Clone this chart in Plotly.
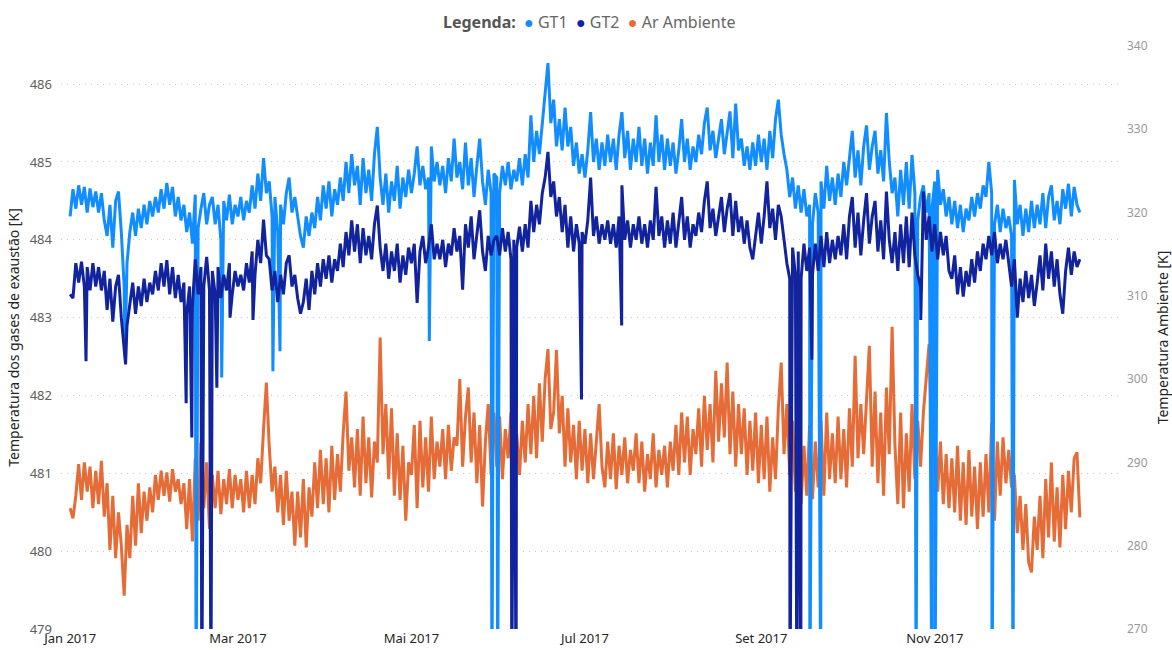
import pandas as pd
import plotly.graph_objects as go

# ---------------- DATA ----------------
start_date = "2017-01-01"

gt1 = [
    484.30, 484.65, 484.40, 484.70, 484.45, 484.68, 484.35, 484.66, 484.42, 484.62,
    484.35, 484.60, 484.25, 484.05, 484.45, 483.90, 484.50, 484.62, 484.10, 483.40,
    483.70, 484.10, 484.35, 484.05, 484.40, 484.15, 484.45, 484.20, 484.50, 484.30,
    484.55, 484.35, 484.65, 484.40, 484.73, 484.45, 484.68, 484.30, 484.55, 484.25,
    484.45, 484.10, 484.35, 483.95, 484.58, 484.15, 484.40, 484.60, 484.20, 484.45,
    484.55, 484.20, 484.45, 484.00, 484.50, 484.25, 484.58, 484.20, 484.45, 484.30,
    484.55, 484.25, 484.50, 484.35, 484.70, 484.40, 484.85, 484.50, 485.05, 484.60,
    484.75, 484.30, 484.55, 484.10, 484.45, 484.20, 484.60, 484.80, 484.35, 484.55,
    484.30, 484.05, 483.90, 484.30, 484.05, 484.35, 484.15, 484.55, 484.25, 484.70,
    484.40, 484.75, 484.30, 484.65, 484.45, 484.80, 484.50, 485.00, 484.60, 485.10,
    484.70, 484.95, 484.45, 485.05, 484.60, 484.90, 484.50, 485.10, 485.45, 484.80,
    484.45, 484.85, 484.35, 484.75, 484.50, 484.95, 484.40, 484.80, 484.55, 484.90,
    484.60, 484.85, 485.20, 484.70, 484.95, 484.65, 484.80, 485.20, 484.75, 485.00,
    484.70, 484.95, 484.60, 485.05, 484.75, 485.30, 484.80, 485.00, 484.65, 485.25,
    484.70, 485.05, 484.55, 484.95, 485.30, 484.75, 484.45, 484.90, 484.60, 484.85,
    484.80, 484.60, 484.95, 484.70, 485.00, 484.65, 484.90, 484.75, 485.05, 484.70,
    485.10, 484.80, 485.60, 485.00, 485.40, 485.10, 485.50, 485.80, 486.27, 485.50,
    485.80, 485.20, 485.55, 485.15, 485.70, 485.20, 485.45, 484.95, 485.25, 484.85,
    485.10, 484.80, 485.15, 485.64, 485.00, 485.30, 484.90, 485.25, 484.95, 485.35,
    485.00, 485.30, 484.90, 485.35, 485.64, 485.05, 485.40, 484.90, 485.30, 485.00,
    485.45, 484.95, 485.30, 484.85, 485.25, 484.95, 485.60, 485.00, 485.35, 484.90,
    485.30, 484.95, 485.25, 484.85, 485.15, 485.55, 485.00, 485.30, 484.90, 485.20,
    485.00, 485.35, 485.10, 485.50, 485.70, 485.15, 485.40, 485.05, 485.30, 485.55,
    485.10, 485.35, 485.65, 485.05, 485.75, 485.15, 485.30, 484.95, 485.20, 484.90,
    485.25, 484.95, 485.35, 485.00, 485.30, 484.90, 485.40, 485.05, 485.55, 485.80,
    485.35, 485.10, 484.90, 484.55, 484.80, 484.40, 484.70, 484.35, 484.65, 484.30,
    484.45, 484.20, 484.60, 484.35, 484.75, 484.40, 484.95, 484.50, 484.80, 484.45,
    484.85, 484.55, 485.00, 484.70, 485.10, 485.40, 484.80, 485.15, 484.70, 485.20,
    485.47, 484.90, 485.20, 485.40, 484.85, 485.15, 484.75, 485.63, 485.00, 484.60,
    484.80, 484.30, 484.90, 484.45, 485.00, 484.40, 485.09, 484.60, 484.25, 484.55,
    484.70, 484.35, 484.60, 484.40, 484.75, 484.90, 484.45, 484.65, 484.30, 484.55,
    484.20, 484.50, 484.15, 484.45, 484.10, 484.40, 484.25, 484.55, 484.30, 484.60,
    484.40, 484.70, 484.55, 485.00, 484.60, 484.20, 484.45, 484.10, 484.40, 484.15,
    484.30, 484.05, 484.77, 484.20, 484.45, 484.05, 484.40, 484.10, 484.50, 484.15,
    484.45, 484.20, 484.60, 484.15, 484.55, 484.70, 484.25, 484.50, 484.20, 484.65,
    484.40, 484.72, 484.30, 484.68, 484.45, 484.35,
]

gt2 = [
    483.30, 483.25, 483.70, 483.45, 483.72, 483.40, 483.65, 483.35, 483.70, 483.40,
    483.65, 483.35, 483.60, 483.10, 483.50, 482.95, 483.40, 483.55, 483.00, 482.60,
    482.90, 483.20, 483.45, 483.05, 483.40, 483.15, 483.50, 483.20, 483.45, 483.30,
    483.60, 483.35, 483.70, 483.40, 483.74, 483.30, 483.65, 483.25, 483.55, 483.20,
    483.45, 483.05, 483.40, 483.15, 483.75, 483.30, 483.65, 483.40, 483.78, 483.35,
    483.60, 483.30, 483.65, 483.25, 483.55, 483.35, 483.70, 483.30, 483.60, 483.40,
    483.55, 483.35, 483.70, 483.45, 483.85, 483.55, 484.00, 483.70, 484.26, 483.80,
    483.75, 483.35, 483.60, 483.20, 483.55, 483.30, 483.70, 483.80, 483.40, 483.55,
    483.25, 483.05, 483.20, 483.50, 483.10, 483.60, 483.30, 483.70, 483.40, 483.75,
    483.50, 483.80, 483.45, 483.75, 483.60, 483.95, 483.65, 484.10, 483.80, 484.25,
    483.85, 484.20, 483.70, 484.15, 483.80, 484.05, 483.75, 484.20, 484.44, 483.90,
    483.60, 483.95, 483.50, 483.85, 483.60, 483.95, 483.45, 483.80, 483.55, 483.90,
    483.70, 483.95, 483.19, 483.85, 484.05, 483.70, 483.90, 484.20, 483.75, 483.95,
    483.75, 484.00, 483.65, 483.95, 483.80, 484.15, 483.85, 484.05, 483.36, 484.20,
    483.90, 484.30, 483.75, 484.10, 484.38, 483.85, 483.60, 484.05, 483.80, 484.00,
    484.05, 483.80, 484.15, 483.85, 484.10, 483.75, 484.00, 483.90, 484.17, 483.85,
    484.20, 483.90, 484.50, 484.10, 484.45, 484.20, 484.60, 484.80, 485.13, 484.55,
    484.75, 484.30, 484.55, 484.10, 484.45, 483.90, 484.30, 483.85, 484.20, 483.95,
    484.10, 483.95, 484.25, 484.80, 484.05, 484.30, 483.95, 484.20, 484.00, 484.25,
    483.95, 484.20, 483.90, 484.30, 484.70, 484.00, 484.25, 483.90, 484.20, 484.00,
    484.30, 483.95, 484.20, 483.90, 484.25, 484.00, 484.68, 484.05, 484.30, 483.90,
    484.25, 483.95, 484.35, 483.90, 484.20, 484.55, 484.00, 484.30, 483.90, 484.20,
    484.05, 484.35, 484.10, 484.50, 484.75, 484.15, 484.40, 484.05, 484.30, 484.55,
    484.10, 484.40, 484.60, 484.05, 484.50, 484.10, 484.30, 483.95, 484.25, 483.90,
    483.75, 484.05, 484.35, 483.95, 484.30, 484.75, 484.15, 484.40, 484.00, 484.45,
    484.30, 484.00, 483.70, 483.50, 483.90, 483.55, 483.85, 483.50, 483.95, 483.60,
    483.90, 483.55, 483.95, 483.60, 484.05, 483.65, 484.10, 483.70, 484.00, 483.75,
    484.05, 483.80, 484.20, 483.75, 484.30, 484.55, 483.90, 484.35, 483.80, 484.25,
    484.60, 483.95, 484.30, 484.50, 483.85, 484.25, 483.75, 484.62, 484.00, 483.70,
    484.10, 483.60, 484.20, 483.70, 484.30, 483.65, 484.35, 483.80, 483.55, 483.40,
    484.62, 484.00, 484.30, 483.85, 484.20, 483.75, 484.10, 483.80, 484.05, 483.60,
    483.50, 483.80, 483.30, 483.65, 483.27, 483.60, 483.40, 483.75, 483.45, 483.85,
    483.60, 483.95, 483.75, 484.05, 483.80, 484.10, 483.70, 483.95, 483.75, 484.00,
    483.70, 483.40, 483.75, 483.00, 483.50, 483.20, 483.60, 483.25, 483.55, 483.15,
    483.45, 483.80, 483.35, 483.95, 483.50, 483.85, 483.40, 483.75, 483.30, 483.05,
    483.60, 483.90, 483.55, 483.85, 483.65, 483.75,
]

ar_ambiente = [
    284.5, 283.3, 286.0, 289.8, 285.5, 290.0, 286.5, 289.5, 284.5, 289.0,
    285.0, 290.2, 283.5, 287.5, 279.5, 286.0, 278.5, 284.0, 280.0, 274.0,
    282.5, 278.5, 286.0, 280.0, 287.5, 281.5, 286.5, 283.0, 287.0, 284.0,
    288.5, 285.5, 289.0, 286.0, 288.8, 285.3, 289.2, 286.5, 288.0, 285.0,
    287.5, 282.0, 288.0, 280.5, 290.5, 283.0, 292.4, 284.5, 290.0, 282.0,
    288.5, 284.5, 289.0, 283.8, 288.0, 285.0, 289.2, 284.5, 288.5, 285.5,
    288.0, 284.0, 289.0, 284.5, 288.5, 285.0, 290.5, 287.5, 294.0, 299.6,
    292.0, 286.5, 289.5, 284.0, 288.5, 282.5, 289.0, 283.0, 286.5, 280.0,
    286.5, 281.0, 288.0, 279.8, 287.0, 283.5, 290.0, 284.5, 291.5, 285.0,
    290.5, 284.0, 292.0, 285.5, 291.0, 286.5, 293.5, 298.5, 289.0, 293.0,
    287.0, 294.0, 286.0, 295.5, 287.5, 293.0, 285.8, 292.5, 290.0, 305.0,
    291.0, 297.0, 288.0, 296.5, 286.0, 293.5, 285.5, 292.0, 283.0, 290.0,
    288.5, 294.5, 284.5, 295.0, 287.0, 293.0, 286.5, 295.5, 288.0, 292.5,
    289.5, 294.0, 288.0, 294.5, 289.0, 293.0, 292.0, 300.0, 289.5, 295.5,
    299.0, 290.0, 296.0, 287.5, 294.5, 284.7, 292.5, 297.0, 288.5, 296.0,
    289.5, 295.5, 288.0, 294.0, 290.5, 296.0, 289.0, 293.5, 288.5, 295.0,
    290.0, 297.0, 291.0, 298.0, 290.5, 299.5, 292.5, 300.0, 303.6, 294.0,
    296.0, 303.5, 293.5, 298.0, 289.5, 296.5, 290.0, 294.5, 288.0, 295.0,
    289.0, 294.0, 287.5, 293.5, 288.0, 292.0, 297.0, 289.5, 287.0, 292.5,
    288.0, 293.5, 286.8, 292.0, 288.5, 293.0, 287.5, 291.5, 289.0, 293.5,
    287.5, 292.5, 286.5, 291.0, 288.0, 293.5, 287.0, 291.5, 288.5, 292.0,
    287.0, 292.5, 289.0, 294.5, 288.5, 296.0, 290.0, 295.5, 288.5, 294.0,
    291.0, 296.5, 289.5, 298.0, 291.5, 297.0, 290.0, 301.0, 292.5, 299.5,
    293.0, 302.0, 291.0, 298.5, 289.5, 297.0, 291.0, 296.5, 288.5, 295.0,
    289.0, 296.0, 287.5, 294.5, 288.0, 295.5, 286.5, 293.0, 288.0, 296.5,
    302.0, 291.0, 297.0, 288.5, 295.0, 286.5, 293.5, 285.0, 292.0, 286.0,
    294.5, 285.6, 292.5, 287.0, 295.0, 286.0, 296.0, 288.0, 293.5, 287.5,
    295.5, 288.0, 294.0, 287.0, 296.5, 289.5, 302.8, 290.5, 297.0, 291.0,
    298.0, 304.0, 289.5, 298.5, 287.5, 296.0, 286.0, 299.0, 291.0, 306.3,
    292.0, 285.0, 296.0, 284.5, 293.5, 286.5, 297.0, 288.0, 295.0, 289.5,
    296.0, 300.5, 304.2, 291.5, 294.5, 286.5, 292.5, 285.0, 291.0, 284.5,
    290.5, 284.0, 292.0, 283.0, 290.0, 282.5, 291.5, 283.5, 289.5, 282.0,
    290.0, 283.5, 291.0, 284.0, 294.8, 283.0, 292.5, 286.0, 293.0, 287.5,
    291.5, 287.0, 288.5, 281.5, 286.0, 279.5, 285.0, 278.0, 276.8, 283.5,
    279.5, 286.0, 278.5, 288.0, 281.0, 290.0, 280.5, 287.0, 279.8, 288.5,
    282.0, 289.0, 284.0, 290.5, 291.2, 283.4,
]

# short outages (drops)
gt1_drop_times = [
    "2017-01-20 07:00", "2017-02-14 07:00", "2017-02-23 07:00", "2017-03-13 07:00",
    "2017-03-15 19:00", "2017-05-07 07:00", "2017-05-29 07:00", "2017-05-31 07:00",
    "2017-09-18 02:00", "2017-09-21 22:00", "2017-10-25 10:00", "2017-10-30 23:00",
    "2017-11-01 02:00", "2017-11-21 03:00", "2017-11-28 12:00",
]
gt1_drop_values = [
    482.50, 478.00, 482.23, 482.31,
    482.57, 482.70, 478.00, 478.00,
    478.00, 478.00, 478.00, 478.00,
    478.00, 478.00, 478.00,
]

gt2_drop_times = [
    "2017-01-06 14:00", "2017-01-20 12:00", "2017-02-10 19:00", "2017-02-12 19:00",
    "2017-02-16 07:00", "2017-02-19 12:00", "2017-02-21 14:00", "2017-02-26 05:00",
    "2017-03-06 07:00", "2017-06-05 07:00", "2017-06-06 19:00", "2017-06-29 19:00",
    "2017-07-13 22:00", "2017-09-11 02:00", "2017-09-13 12:00", "2017-09-14 22:00",
    "2017-09-18 19:00", "2017-10-27 02:00",
]
gt2_drop_values = [
    482.44, 482.40, 481.90, 481.46,
    478.00, 478.00, 482.10, 483.00,
    482.97, 478.00, 478.00, 481.95,
    482.90, 478.00, 478.00, 478.00,
    482.46, 482.97,
]

tick_dates = ["2017-01-01", "2017-03-01", "2017-05-01", "2017-07-01", "2017-09-01", "2017-11-01"]
tick_labels = ["Jan 2017", "Mar 2017", "Mai 2017", "Jul 2017", "Set 2017", "Nov 2017"]

series_names = ["GT1", "GT2", "Ar Ambiente"]
series_colors = ["#118DFF", "#12239E", "#E66C37"]

# ---------------- BUILD ----------------
days = pd.date_range(start_date, periods=len(gt1), freq="D")


def build(values, drop_t=None, drop_v=None):
    s = pd.Series(values, index=days)
    if drop_t:
        d = pd.Series(drop_v, index=pd.to_datetime(drop_t))
        s = pd.concat([s, d]).sort_index()
    return s


s_gt1 = build(gt1, gt1_drop_times, gt1_drop_values)
s_gt2 = build(gt2, gt2_drop_times, gt2_drop_values)
s_ar = build(ar_ambiente)

FONT = "Noto Sans, Open Sans, sans-serif"
LW = 3

fig = go.Figure()

# ambient on the base (right) axis so that it is drawn underneath
fig.add_trace(go.Scatter(x=s_ar.index, y=s_ar.values, mode="lines", name=series_names[2],
                         line=dict(color=series_colors[2], width=LW), yaxis="y"))
fig.add_trace(go.Scatter(x=s_gt1.index, y=s_gt1.values, mode="lines", name=series_names[0],
                         line=dict(color=series_colors[0], width=LW), yaxis="y2"))
fig.add_trace(go.Scatter(x=s_gt2.index, y=s_gt2.values, mode="lines", name=series_names[1],
                         line=dict(color=series_colors[1], width=LW), yaxis="y2"))

# legend drawn as a compact text line (Power BI style)
legend_html = "<b style='color:#555555'>Legenda:</b>&nbsp;&nbsp;" + "&nbsp;&nbsp;".join(
    f"<span style='color:{c}'>●</span>&nbsp;<span style='color:#666666'>{n}</span>"
    for n, c in zip(series_names, series_colors)
)
fig.add_annotation(text=legend_html, xref="paper", yref="paper", x=0.5, xanchor="center",
                   y=1.041, yanchor="middle", showarrow=False,
                   font=dict(size=16, family=FONT, color="#666666"))

fig.update_layout(
    width=1172, height=650,
    margin=dict(l=61, r=54, t=46, b=21),
    paper_bgcolor="white", plot_bgcolor="white",
    font=dict(family=FONT, color="#605E5C"),
    showlegend=False,
    xaxis=dict(
        type="date", automargin=False,
        range=["2016-12-28 19:00", "2018-01-04 10:00"],
        tickvals=tick_dates, ticktext=tick_labels,
        showgrid=False, zeroline=False, showline=False, ticks="",
        ticklabelstandoff=0,
        tickfont=dict(size=13, color="#252423"),
    ),
    yaxis=dict(
        side="right", range=[270, 340], dtick=10, tick0=270, automargin=False,
        showgrid=False, zeroline=False, showline=False, ticks="",
        ticklabelstandoff=8,
        tickfont=dict(size=12, color="#999999"),
        title=dict(text="Temperatura Ambiente [K]", font=dict(size=14, color="#252423"), standoff=12),
    ),
    yaxis2=dict(
        overlaying="y", side="left", range=[479, 486.49], dtick=1, tick0=479, automargin=False,
        showgrid=True, gridcolor="#C8C8C8", griddash="1px,5px", gridwidth=1.2,
        zeroline=False, showline=False, ticks="",
        ticklabelstandoff=8,
        tickfont=dict(size=13, color="#605E5C"),
        title=dict(text="Temperatura dos gases de exaustão [K]", font=dict(size=14, color="#252423"), standoff=6),
    ),
)

fig.write_html("out.html")
